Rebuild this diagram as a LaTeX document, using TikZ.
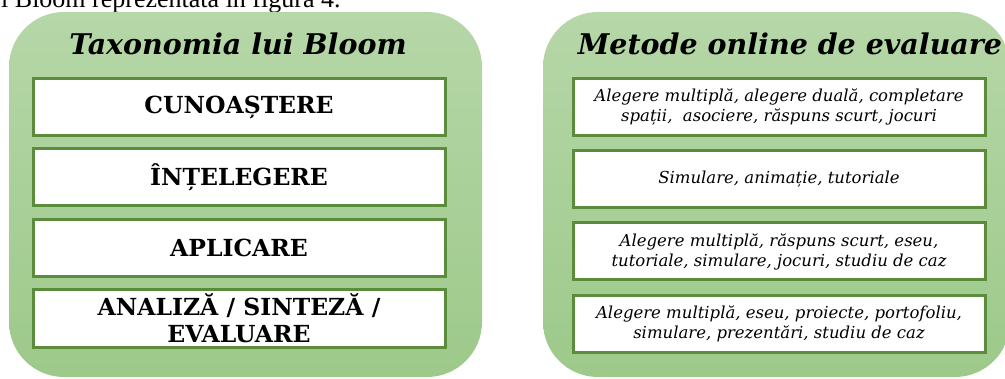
\documentclass[tikz,border=0pt]{standalone}
\usepackage{fontspec}
\setmainfont{DejaVu Serif}
\newfontfamily\timesf{Liberation Serif}
\definecolor{gtop}{HTML}{B6D7A8}
\definecolor{gbot}{HTML}{9DC98A}
\definecolor{gline}{HTML}{5B8C3C}
\tikzset{
  panel/.style={rounded corners=55pt, top color=gtop, bottom color=gbot, draw=none, inner sep=0pt, minimum height=365pt},
  lvl/.style={draw=gline, line width=3pt, fill=white, minimum width=412pt, minimum height=57pt, inner sep=0pt, align=center, font=\fontsize{23.5}{27}\selectfont\bfseries},
  meth/.style={draw=gline, line width=3pt, fill=white, minimum width=412pt, minimum height=57pt, inner sep=0pt, align=center, font=\fontsize{16.5}{20}\selectfont\itshape},
  ttl/.style={inner sep=0pt, anchor=base, font=\fontsize{28.5}{32}\selectfont\bfseries\itshape}
}
\begin{document}
\begin{tikzpicture}[x=1pt,y=1pt]
\useasboundingbox (0,0) rectangle (1005,378);
\clip (0,0) rectangle (1005,378);
\node[anchor=base west, inner sep=0pt, font=\timesf\fontsize{26}{30}\selectfont] (top) at (1,370.5) {l Bloom reprezentată în figura 4.};
\node[panel, minimum width=473pt] (lp) at (245.5,183.5) {};
\node[panel, minimum width=467pt] (rp) at (776.5,183.5) {};
\node[ttl] (lt) at (238,323) {Taxonomia lui Bloom};
\node[ttl] (rt) at (790,323) {Metode online de evaluare};
\node[lvl] (l1) at (239,271) {CUNOAȘTERE};
\node[lvl] (l2) at (239,200.5) {ÎNȚELEGERE};
\node[lvl] (l3) at (239,130) {APLICARE};
\node[lvl] (l4) at (239,59.5) {ANALIZĂ / SINTEZĂ /\\EVALUARE};
\node[meth] (m1) at (779,271) {Alegere multiplă, alegere duală, completare\\spații, \ asociere, răspuns scurt, jocuri};
\node[meth] (m2) at (779,199) {Simulare, animație, tutoriale};
\node[meth] (m3) at (779,126.5) {Alegere multiplă, răspuns scurt, eseu,\\tutoriale, simulare, jocuri, studiu de caz};
\node[meth] (m4) at (779,54) {Alegere multiplă, eseu, proiecte, portofoliu,\\simulare, prezentări, studiu de caz};
\end{tikzpicture}
\end{document}
